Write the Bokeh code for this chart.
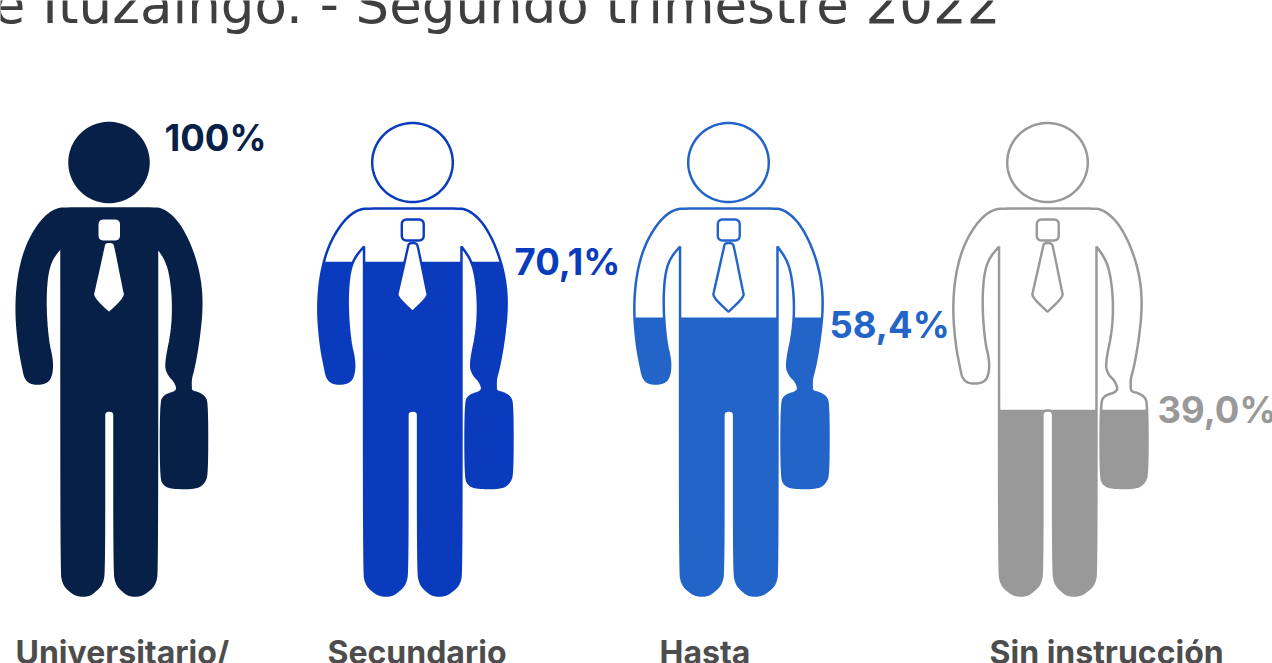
from bokeh.plotting import figure
from bokeh.embed import file_html
from bokeh.resources import INLINE
from bokeh.core.properties import value
from bokeh.models import Range1d
import math

# ---- data
categories = ["Universitario/", "Secundario", "Hasta", "Sin instrucción"]
percent = [100.0, 70.1, 58.4, 39.0]
percent_labels = ["100%", "70,1%", "58,4%", "39,0%"]
colors = ["#062048", "#0b3bbd", "#2364c9", "#999999"]
title_text = "e Ituzaingó. - Segundo trimestre 2022"

# ---- layout (page pixels)
W, H = 1272, 663
centers = [108.5, 412, 728, 1047]
x_scale = [1.0, 1.02, 1.02, 1.02]
scale_top, scale_bottom = 119.0, 595.0
label_x = [164, 514, 829, 1157]
label_y = [137, 261, 324, 409]
cat_x = [15, 327, 659, 989]
cat_y = 652

# ---- pictogram outline, relative to the centre x; (x, y, sharp)
body_pts = [
 (70,208,0),(150,208,0),(162,208.5,0),(177,221,0),(190,245,0),(199,275,0),(201.5,305,0),(198,340,0),(193,368,0),
 (190,378,0),(190,388,0),(191,391,0),(197,392.5,0),(203.5,396,0),(206.5,403,0),(206.5,473,0),(203.5,482,0),(196,487.5,0),
 (172,487.5,0),(164,484.5,0),(160.5,477,0),(160.5,403,0),(164,395,0),(178,391,0),(175,381,0),(168,374,0),(165,364,0),
 (172,330,0),(173,300,0),(170,273,0),(165,258,0),(156.5,246,1),
 (156.5,570,0),(154.5,583,0),(148,590,0),(140,595,0),(129,595,0),(122,590,0),(116,583,0),(114,570,0),
 (114,420,0),(114,410,0),(103.5,410,0),(103.5,420,0),
 (103.5,570,0),(101.5,583,0),(95,590,0),(88,595,0),(77,595,0),(69,590,0),(63,583,0),(61,570,0),
 (61,246,1),(51,258,0),(46,275,0),(44.5,305,0),(47,340,0),(52,362,0),(50,378,0),(43,383,0),(31,383,0),(25,378,0),(22.5,366,0),
 (18.5,345,0),(15.5,310,0),(18,275,0),(26,245,0),(40,221,0),(55,208.5,0),
]
tie_pts = [(104,247,0),(105,242.5,0),(112.5,242.5,0),(114,247,0),(122.5,290,0),(124,296,0),(109,311,0),(108,311,0),(93,296,0),(94.5,290,0)]
collar_pts = [(108.75,219,0),(119.5,219,0),(119.5,229.5,0),(119.5,240,0),(108.75,240,0),(98,240,0),(98,229.5,0),(98,219,0)]


def smooth(pts, rounds=2):
    """Corner cutting of a closed outline, keeping the points marked sharp."""
    for _ in range(rounds):
        out = []
        n = len(pts)
        for i in range(n):
            a, b, c = pts[i-1], pts[i], pts[(i+1) % n]
            if b[2]:
                out.append(b)
                continue
            out.append((b[0]*.75+a[0]*.25, b[1]*.75+a[1]*.25, 0))
            out.append((b[0]*.75+c[0]*.25, b[1]*.75+c[1]*.25, 0))
        pts = out
    return [(q[0], q[1]) for q in pts]


def place(pts, cx, sx):
    return [((x-108.5)*sx+cx, y) for x, y in pts]


def clip_below(pts, level):
    """Part of a closed outline with y >= level (page pixels run downward)."""
    out = []
    n = len(pts)
    for i in range(n):
        a, b = pts[i], pts[(i+1) % n]
        ia, ib = a[1] >= level, b[1] >= level
        if ia:
            out.append(a)
        if ia != ib:
            t = (level-a[1])/(b[1]-a[1])
            out.append((a[0]+t*(b[0]-a[0]), level))
    return out


body = smooth(body_pts, 3)
tie = smooth(tie_pts, 2)
collar = smooth(collar_pts, 3)
head = [(108.5+39.5*math.cos(k*math.pi/60), 162+39.5*math.sin(k*math.pi/60)) for k in range(120)]

p = figure(width=W, height=H, output_backend="svg", toolbar_location=None,
           x_range=Range1d(0, W), y_range=Range1d(H, 0),
           x_axis_type=None, y_axis_type=None, min_border=0, outline_line_color=None)
p.grid.visible = False


def xy(pts):
    return [q[0] for q in pts], [q[1] for q in pts]


for i, pct in enumerate(percent):
    cx, sx, col = centers[i], x_scale[i], colors[i]
    level = scale_bottom - (scale_bottom-scale_top)*pct/100
    for shape in (head, body):
        placed = place(shape, cx, sx)
        x, y = xy(placed)
        p.patch(x, y, fill_color="white", line_color=None)
        fx, fy = xy(clip_below(placed, level))
        if fx:
            p.patch(fx, fy, fill_color=col, line_color=None)
        p.patch(x, y, fill_color=None, line_color=col, line_width=2.5)
    for shape in (tie, collar):
        x, y = xy(place(shape, cx, sx))
        p.patch(x, y, fill_color="white", line_color=col if pct < 100 else None, line_width=2.4)
    p.text([label_x[i]], [label_y[i]], text=[percent_labels[i]], text_color=col,
           text_font=value("Inter"), text_font_style="bold", text_font_size="36.5px",
           text_baseline="alphabetic", text_align="left")
    p.text([cat_x[i]], [cat_y], text=[categories[i]], text_color="#4d4d4d",
           text_font=value("Inter"), text_font_style="bold", text_font_size="32px",
           text_baseline="alphabetic", text_align="left")

p.text([1000], [4], text=[title_text], text_color="#3f3f3f",
       text_font=value("DejaVu Sans ExtraLight, DejaVu Sans"),
       text_font_size="53px", text_baseline="alphabetic", text_align="right")

open("out.html", "w").write(file_html(p, INLINE))
